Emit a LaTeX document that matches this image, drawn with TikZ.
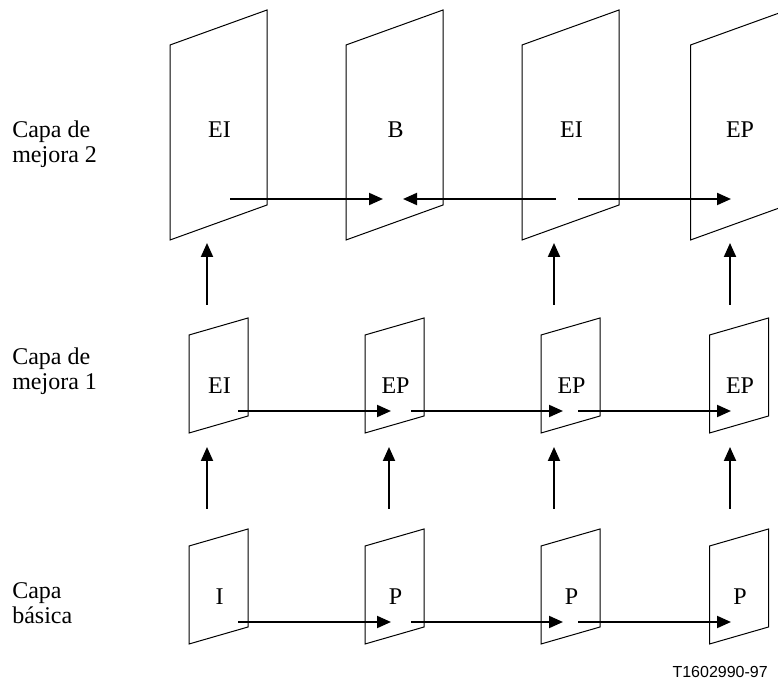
\documentclass[tikz,border=0pt]{standalone}
\usepackage{fontspec}
\setmainfont{Liberation Serif}
\newfontfamily\tagfont{Liberation Sans}
\usetikzlibrary{arrows.meta}

\begin{document}
\begin{tikzpicture}[x=0.75pt,y=-0.75pt,
  frm/.style={draw=black, line width=0.75pt},
  txt/.style={inner sep=0pt, font=\fontsize{18}{18.75}\selectfont},
  link/.style={line width=1.5pt, -{Triangle[length=10.5pt,width=9pt]}}]
\useasboundingbox (0,0) rectangle (778,680);
\clip (0,0) rectangle (778,680);

% layer names
\node[txt, anchor=north west, align=left] (cap2) at (12,120.5) {Capa de\\mejora 2};
\node[txt, anchor=north west, align=left] (cap1) at (12,347.5) {Capa de\\mejora 1};
\node[txt, anchor=north west, align=left] (cap0) at (12,582) {Capa\\básica};

% pictures of each layer
\foreach \c/\t [count=\i] in {218.5/EI, 394.5/B, 570.5/EI, 739/EP} {
  \draw[frm] (\c-48.5,45) -- ++(97,-35) -- ++(0,195) -- ++(-97,35) -- cycle;
  \node[txt] (e2-\i) at (\c+1,130) {\t};
}
\foreach \c/\t [count=\i] in {218.5/EI, 394.5/EP, 570.5/EP, 739/EP} {
  \draw[frm] (\c-29.5,335) -- ++(59,-17) -- ++(0,98) -- ++(-59,17) -- cycle;
  \node[txt] (e1-\i) at (\c+1,386) {\t};
}
\foreach \c/\t [count=\i] in {218.5/I, 394.5/P, 570.5/P, 739/P} {
  \draw[frm] (\c-29.5,546) -- ++(59,-17) -- ++(0,98) -- ++(-59,17) -- cycle;
  \node[txt] (b-\i) at (\c+1,597) {\t};
}

% prediction inside layer 2
\coordinate (e2o1) at (230,199);
\coordinate (e2i2) at (383,199);
\coordinate (e2j2) at (403,199);
\coordinate (e2o3) at (556,199);
\coordinate (e2p3) at (578,199);
\coordinate (e2i4) at (731,199);
\draw[link] (e2o1) -- (e2i2);
\draw[link] (e2o3) -- (e2j2);
\draw[link] (e2p3) -- (e2i4);

% prediction inside layer 1 and base layer
\foreach \r/\y in {e1/411, b/622} {
  \coordinate (\r o1) at (238,\y);
  \coordinate (\r i2) at (391,\y);
  \coordinate (\r o2) at (411,\y);
  \coordinate (\r i3) at (563,\y);
  \coordinate (\r o3) at (578,\y);
  \coordinate (\r i4) at (731,\y);
  \draw[link] (\r o1) -- (\r i2);
  \draw[link] (\r o2) -- (\r i3);
  \draw[link] (\r o3) -- (\r i4);
}

% upward prediction between layers
\foreach \x/\i in {207/1, 554/3, 730/4} {
  \coordinate (u\i) at (\x,305);
  \coordinate (w\i) at (\x,243);
  \draw[link] (u\i) -- (w\i);
}
\foreach \x/\i in {207/1, 389/2, 554/3, 730/4} {
  \coordinate (s\i) at (\x,509);
  \coordinate (t\i) at (\x,447);
  \draw[link] (s\i) -- (t\i);
}

\node[inner sep=0pt, anchor=base east, font=\tagfont\fontsize{12}{14}\selectfont] (tag) at (768,677) {T1602990-97};
\end{tikzpicture}
\end{document}
